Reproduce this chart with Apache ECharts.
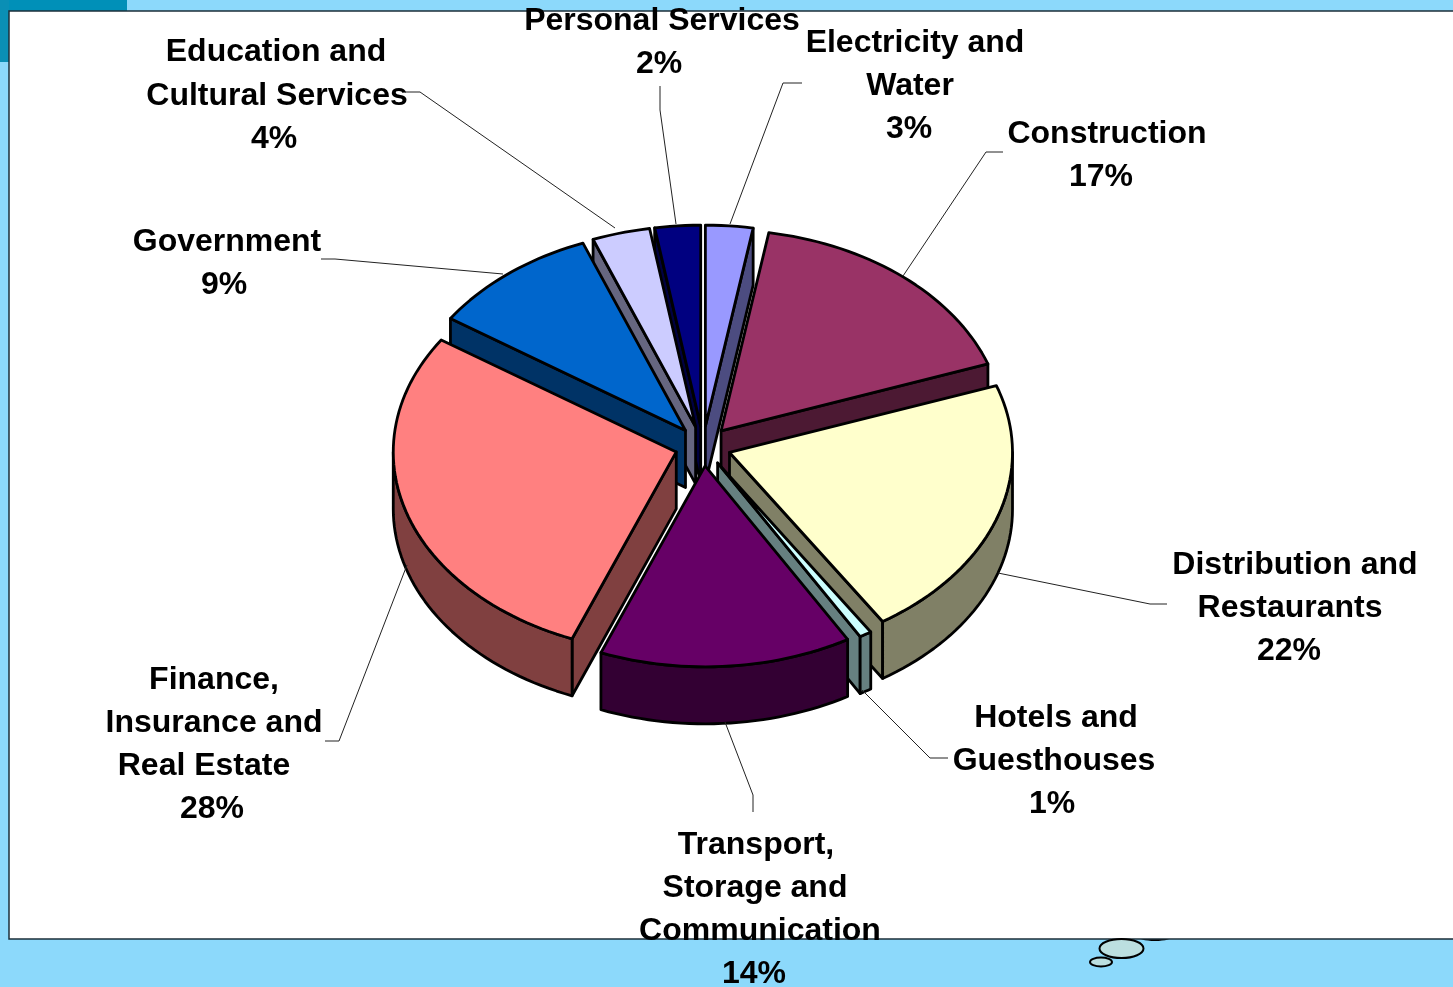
<!DOCTYPE html>
<html><head><meta charset="utf-8">
<style>html,body{margin:0;padding:0;background:#8CD9FB}#c{width:1453px;height:987px}</style>
<script src="https://cdn.jsdelivr.net/npm/echarts@6/dist/echarts.min.js"></script>
</head><body><div id="c"></div>
<script>
// Data, clockwise from twelve o'clock
const categories = ["Electricity and Water","Construction","Distribution and Restaurants","Hotels and Guesthouses","Transport, Storage and Communication","Finance, Insurance and Real Estate","Government","Education and Cultural Services","Personal Services"];
const shares = [2.7,16.9,21.3,0.7,14.4,28.4,9.7,3.3,2.6];
const percentLabels = ["3%","17%","22%","1%","14%","28%","9%","4%","2%"];
const labelLines = [["Electricity and","Water"],["Construction"],["Distribution and","Restaurants"],["Hotels and","Guesthouses"],["Transport,","Storage and","Communication"],["Finance,","Insurance and","Real Estate"],["Government"],["Education and","Cultural Services"],["Personal Services"]];
const topColors = ["#9999FF","#993366","#FFFFCC","#CCFFFF","#660066","#FF8080","#0066CC","#CCCCFF","#000080"];
const wallColors = ["#4C4C80","#4C1933","#808066","#668080","#330033","#804040","#003366","#666680","#000040"];

// Layout
const paintOrder = [8,7,0,6,1,5,2,3,4];
const C = {x:703,y:446,rx:283,ry:201,depth:57,explode:28};
const labelPos = [
 [[915,43],[910,86],[909,129]],
 [[1107,134],[1101,177]],
 [[1295,565],[1290,608],[1289,651]],
 [[1056,718],[1054,761],[1052,804]],
 [[756,845],[755,888],[760,931],[754,974]],
 [[214,680],[214,723],[204,766],[212,809]],
 [[227,242],[224,285]],
 [[276,52],[277,96],[274,139]],
 [[662,21],[659,64]]
];
const leaders = [
 [[802,83],[783,83],[730,224]],
 [[1003,152],[986,152],[903,276]],
 [[1167,604],[1150,604],[998,573]],
 [[948,758],[930,758],[862,690]],
 [[753,812],[753,795],[725,722]],
 [[325,741],[339,741],[407,565]],
 [[321,259],[335,259],[503,274]],
 [[405,92],[420,92],[615,228]],
 [[660,86],[660,110],[676,224]]
];
const total = shares.reduce((a,b)=>a+b,0);
const starts = []; shares.reduce((a,v,i)=>(starts[i]=a,a+v),0);

function renderSlice(params, api){
  const i = api.value(0), v = api.value(1);
  const TAU = 2*Math.PI;
  const a0 = starts[i]/total*TAU, a1 = (starts[i]+v)/total*TAU, mid=(a0+a1)/2;
  const ox = C.x + C.explode*Math.sin(mid), oy = C.y - C.explode*(C.ry/C.rx)*Math.cos(mid);
  const at = a=>[ox+C.rx*Math.sin(a), oy-C.ry*Math.cos(a)];
  const arcOf = (s,e)=>{const n=Math.max(4,Math.ceil((e-s)/0.03)),r=[];for(let k=0;k<=n;k++)r.push(at(s+(e-s)*k/n));return r;};
  const arc = arcOf(a0,a1);
  const down = p=>[p[0],p[1]+C.depth];
  const apex=[ox,oy];
  const st = (fill)=>({fill,stroke:'#000',lineWidth:2.8,lineJoin:'round'});
  const poly=(pts,fill)=>({type:'polygon',shape:{points:pts},style:st(fill)});
  const first=arc[0], last=arc[arc.length-1];
  const children=[];
  // Only the faces turned towards the viewer are drawn
  if(a0>Math.PI && a0<TAU) children.push(poly([apex,first,down(first),down(apex)],wallColors[i]));
  if(a1>0 && a1<Math.PI) children.push(poly([apex,last,down(last),down(apex)],wallColors[i]));
  const s=Math.max(a0,Math.PI/2), e=Math.min(a1,1.5*Math.PI);
  if(e>s){const f=arcOf(s,e); children.push(poly(f.concat(f.slice().reverse().map(down)),wallColors[i]));}
  children.push(poly([apex].concat(arc),topColors[i]));
  return {type:'group',children};
}
function renderLabel(params, api){
  const i = api.value(0);
  const lines = labelLines[i].concat([percentLabels[i]]);
  const children = lines.map((t,k)=>({type:'text',style:{x:labelPos[i][k][0],y:labelPos[i][k][1],text:t,align:'center',verticalAlign:'middle',font:'bold 32px "Liberation Sans",Arial,sans-serif',fill:'#000'}}));
  children.push({type:'polyline',shape:{points:leaders[i]},style:{fill:null,stroke:'#222',lineWidth:1}});
  return {type:'group',children};
}

const chart = echarts.init(document.getElementById('c'),null,{renderer:'canvas'});
chart.setOption({
  animation:false,
  backgroundColor:'#8CD9FB',
  graphic:[
    {type:'rect',z:0,shape:{x:0,y:0,width:127,height:11},style:{fill:'#0090B8'}},
    {type:'rect',z:0,shape:{x:0,y:0,width:9,height:62},style:{fill:'#0A8FB5'}},
    {type:'ellipse',z:0,shape:{cx:1155,cy:936,rx:18,ry:5},style:{fill:'#000'}},
    {type:'rect',z:1,shape:{x:9,y:11,width:1450,height:928},style:{fill:'#fff',stroke:'#1c2f3a',lineWidth:1.5}},
    {type:'ellipse',z:2,shape:{cx:1121.5,cy:948.5,rx:22,ry:9.5},style:{fill:'#BCDFE0',stroke:'#000',lineWidth:2}},
    {type:'ellipse',z:2,shape:{cx:1101,cy:962,rx:11,ry:4.5},style:{fill:'#BCDFE0',stroke:'#000',lineWidth:2}}
  ],
  series:[
    {type:'custom',coordinateSystem:'none',z:3,silent:true,renderItem:renderSlice,clip:false,
     data:paintOrder.map(i=>({name:categories[i],value:[i,shares[i]]}))},
    {type:'custom',coordinateSystem:'none',z:4,silent:true,renderItem:renderLabel,clip:false,
     data:categories.map((c,i)=>({name:c,value:[i,shares[i]]}))}
  ]
});
</script></body></html>
